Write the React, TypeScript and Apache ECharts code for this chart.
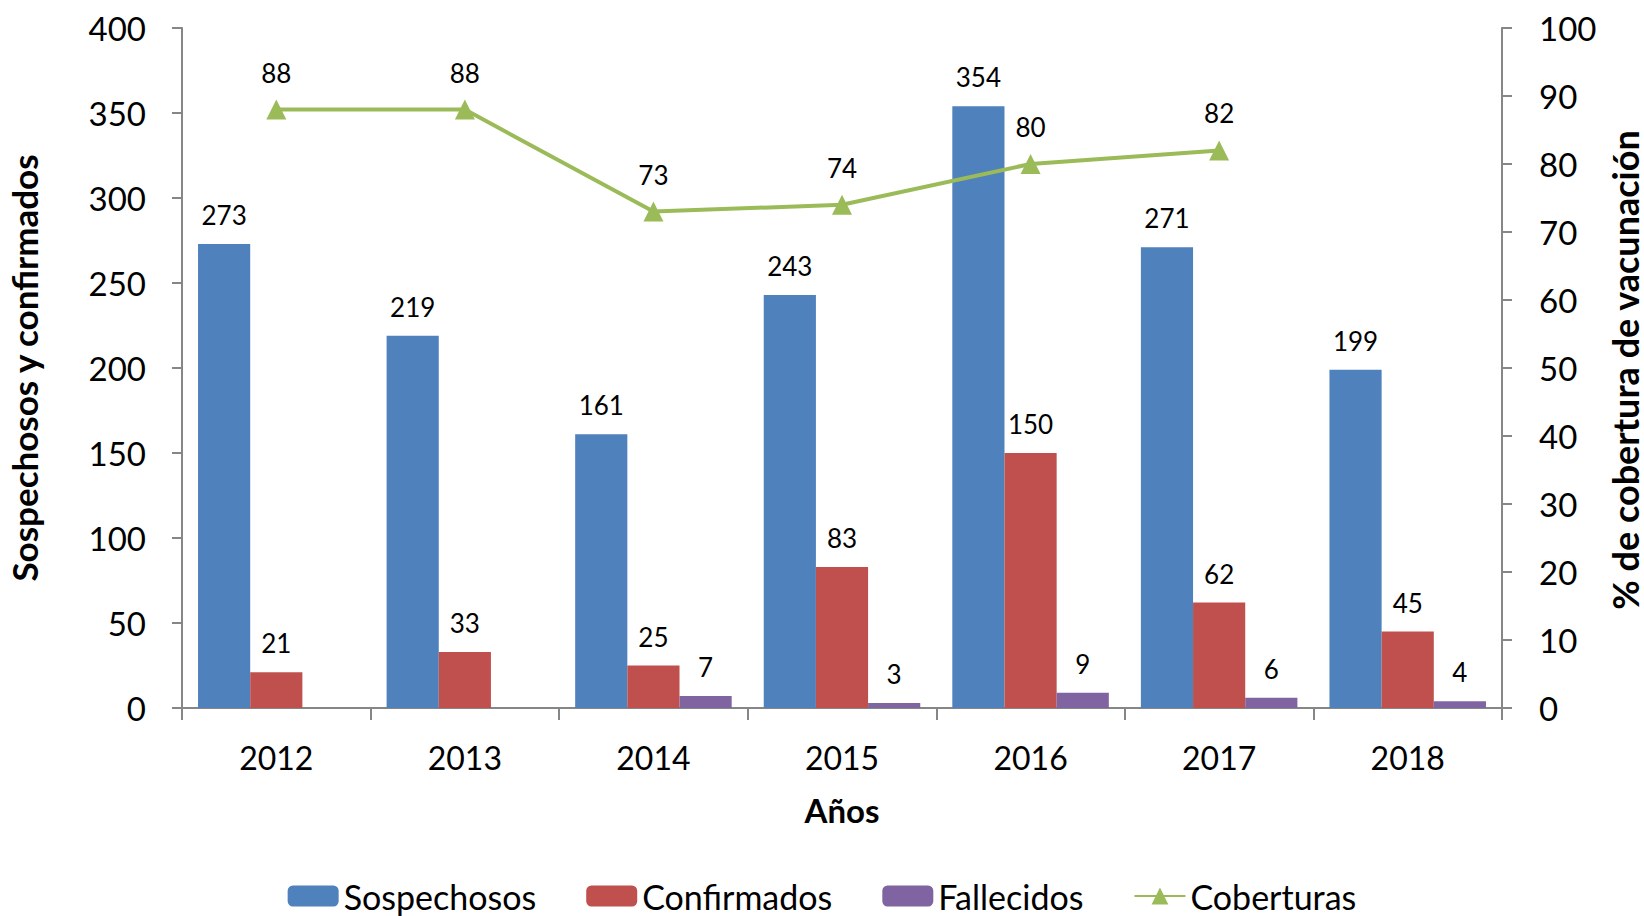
import React, { useEffect, useRef } from "react";
import * as echarts from "echarts";

const years = ["2012", "2013", "2014", "2015", "2016", "2017", "2018"];
const sospechosos = [273, 219, 161, 243, 354, 271, 199];
const confirmados = [21, 33, 25, 83, 150, 62, 45];
const fallecidos: (number | null)[] = [null, null, 7, 3, 9, 6, 4];
const coberturas: (number | null)[] = [88, 88, 73, 74, 80, 82, null];
const rightAxisTitle = "% de cobertura de vacunación";

const FONT = "Lato";

export default function App() {
  const ref = useRef<HTMLDivElement>(null);
  useEffect(() => {
    document.body.style.margin = "0";
    document.body.style.overflow = "hidden";
    if (!ref.current) return;
    const chart = echarts.init(ref.current, undefined, { renderer: "svg" });
    const labelStyle = { show: true, position: "top" as const, color: "#000", fontSize: 26, fontFamily: FONT, distance: 16 };
    chart.setOption({
      animation: false,
      textStyle: { fontFamily: FONT },
      grid: { left: 182, right: 142, top: 28, bottom: 208, containLabel: false, outerBoundsMode: "none" },
      graphic: [
        {
          type: "text",
          x: 1625,
          y: 370,
          rotation: Math.PI / 2,
          style: {
            text: rightAxisTitle,
            fontSize: 36,
            fontWeight: "bold",
            fontFamily: FONT,
            fill: "#000",
            align: "center",
            verticalAlign: "middle",
          },
        },
      ],
      legend: {
        top: 874,
        left: "center",
        itemWidth: 51,
        itemHeight: 21,
        itemGap: 50,
        textStyle: { fontSize: 34, fontFamily: FONT, color: "#000" },
        data: ["Sospechosos", "Confirmados", "Fallecidos", "Coberturas"],
      },
      xAxis: {
        type: "category",
        data: years,
        name: "Años",
        nameLocation: "middle",
        nameGap: 85,
        nameTextStyle: { fontSize: 33, fontWeight: "bold", color: "#000", fontFamily: FONT },
        axisLine: { lineStyle: { color: "#868686", width: 2 } },
        axisTick: { show: true, length: 12, lineStyle: { color: "#868686", width: 2 } },
        axisLabel: { fontSize: 32, color: "#000", margin: 33, fontFamily: FONT },
      },
      yAxis: [
        {
          type: "value",
          min: 0,
          max: 400,
          interval: 50,
          name: "Sospechosos y confirmados",
          nameLocation: "middle",
          nameGap: 141,
          nameTextStyle: { fontSize: 35, fontWeight: "bold", color: "#000", fontFamily: FONT },
          axisLine: { show: true, lineStyle: { color: "#868686", width: 2 } },
          axisTick: { show: true, length: 10, lineStyle: { color: "#868686", width: 2 } },
          axisLabel: { fontSize: 33, color: "#000", margin: 36, fontFamily: FONT },
          splitLine: { show: false },
        },
        {
          type: "value",
          min: 0,
          max: 100,
          interval: 10,
          position: "right",
          axisLine: { show: true, lineStyle: { color: "#868686", width: 2 } },
          axisTick: { show: true, length: 10, lineStyle: { color: "#868686", width: 2 } },
          axisLabel: { fontSize: 33, color: "#000", margin: 37, fontFamily: FONT },
          splitLine: { show: false },
        },
      ],
      series: [
        {
          name: "Sospechosos",
          type: "bar",
          data: sospechosos,
          barGap: "0%",
          barCategoryGap: "17%",
          itemStyle: { color: "#4F81BD" },
          label: labelStyle,
        },
        {
          name: "Confirmados",
          type: "bar",
          data: confirmados,
          itemStyle: { color: "#C0504D" },
          label: labelStyle,
        },
        {
          name: "Fallecidos",
          type: "bar",
          data: fallecidos,
          itemStyle: { color: "#8064A2" },
          label: labelStyle,
        },
        {
          name: "Coberturas",
          type: "line",
          yAxisIndex: 1,
          data: coberturas,
          symbol: "triangle",
          symbolSize: 20,
          lineStyle: { color: "#9BBB59", width: 4 },
          itemStyle: { color: "#9BBB59" },
          label: { ...labelStyle, distance: 14 },
        },
      ],
    });
    return () => chart.dispose();
  }, []);
  return <div ref={ref} style={{ width: 1644, height: 916 }} />;
}
